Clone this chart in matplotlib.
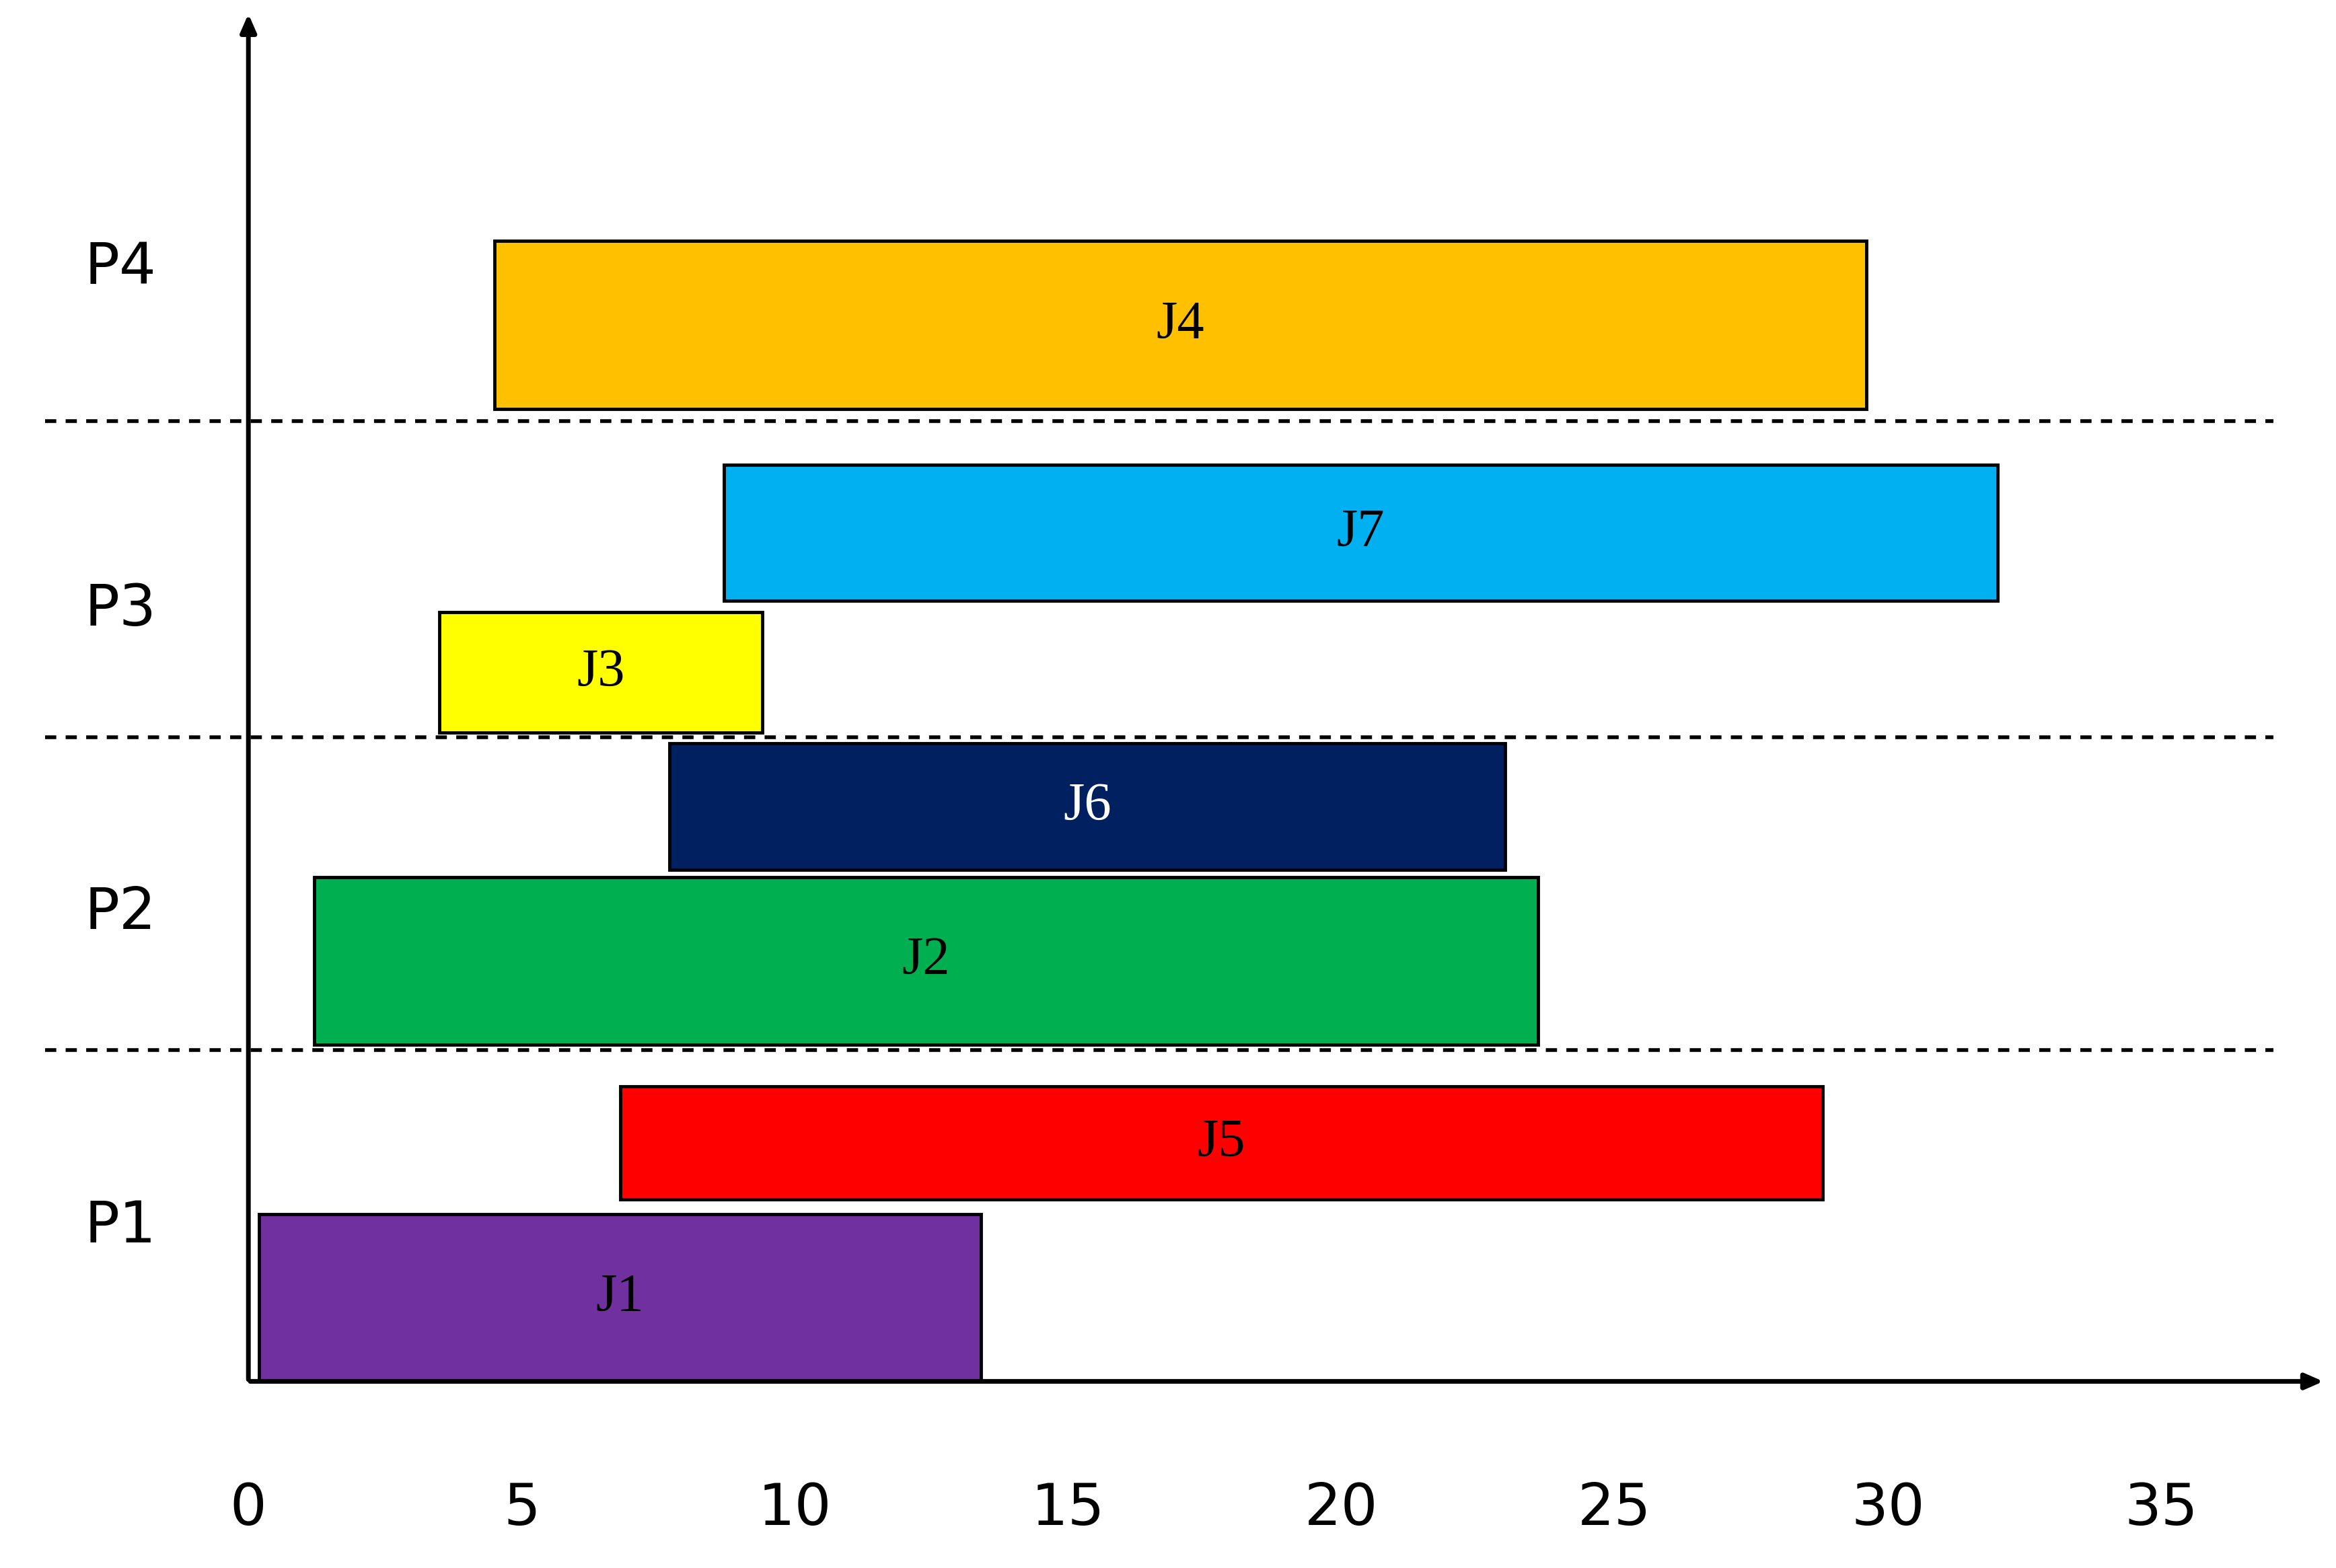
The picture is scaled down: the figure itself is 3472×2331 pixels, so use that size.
import matplotlib
matplotlib.use("Agg")
import matplotlib.pyplot as plt

jobs = ["J1", "J5", "J2", "J6", "J3", "J7", "J4"]
starts = [0.2, 6.8, 1.2, 7.7, 3.5, 8.7, 4.5]
ends = [13.4, 28.8, 23.6, 23.0, 9.4, 32.0, 29.6]
bottoms = [0.0, 1.21, 2.24, 3.40, 4.31, 5.19, 6.46]
tops = [1.11, 1.96, 3.35, 4.24, 5.11, 6.09, 7.58]
colors = ["#7030A0", "#FF0000", "#00B050", "#002060", "#FFFF00", "#00B0F0", "#FFC000"]
text_colors = ["black", "black", "black", "white", "black", "black", "black"]
procs = ["P1", "P2", "P3", "P4"]
proc_y = [1.03, 3.11, 5.13, 7.4]
dividers = [2.2, 4.28, 6.38]
xticks = [0, 5, 10, 15, 20, 25, 30, 35]

fig = plt.figure(figsize=(34.73, 23.31), dpi=100)
ax = fig.add_axes([0, 0, 1, 1])
ax.set_xlim(-4.545, 38.21)
ax.set_ylim(-1.24, 9.18)
ax.axis("off")

for j, s, e, b, t, c, tc in zip(jobs, starts, ends, bottoms, tops, colors, text_colors):
    ax.barh((b + t) / 2, e - s, left=s, height=t - b, color=c, edgecolor="black", linewidth=3.5, zorder=3)
    ax.text((s + e) / 2, (b + t) / 2, j, ha="center", va="center", fontsize=58,
            family=["Liberation Serif"], color=tc, zorder=4)

for d in dividers:
    ax.plot([-3.72, 37.05], [d, d], ls=(0, (3, 2.5)), color="black", lw=4, zorder=2)

for p, y in zip(procs, proc_y):
    ax.text(-2.34, y, p, ha="center", va="center", fontsize=62, family=["Liberation Sans Narrow", "DejaVu Sans"])

for x in xticks:
    ax.text(x, -0.85, str(x), ha="center", va="center", fontsize=62, family=["Liberation Sans Narrow", "DejaVu Sans"])

ax.annotate("", xy=(38.0, 0), xytext=(0, 0),
            arrowprops=dict(arrowstyle="-|>,head_length=1.6,head_width=0.7", lw=5, color="black"), zorder=5)
ax.annotate("", xy=(0, 9.1), xytext=(0, 0),
            arrowprops=dict(arrowstyle="-|>,head_length=1.6,head_width=0.7", lw=5, color="black"), zorder=5)

fig.savefig("out.png", dpi=100)
